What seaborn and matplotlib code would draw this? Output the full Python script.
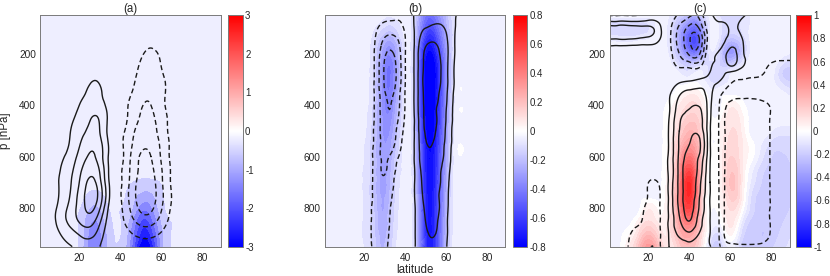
import numpy as np
import matplotlib
matplotlib.use("Agg")
import matplotlib.pyplot as plt
import matplotlib.tri as mtri
import seaborn as sns
from matplotlib.cm import ScalarMappable
from matplotlib.colors import LinearSegmentedColormap, Normalize

# ───────────────────────────────────────────────────────────────
# Grid (latitude columns, pressure rows)
# ───────────────────────────────────────────────────────────────
LAT = [0, 5, 10, 15, 20, 25, 30, 35, 40, 45, 50, 55, 60, 65, 70, 75, 80, 85, 90]
P_HPA = [50, 100, 150, 200, 250, 300, 350, 400, 450, 500,
         550, 600, 650, 700, 750, 800, 850, 900, 950]

# ───────────────────────────────────────────────────────────────
# Panel (a): shading in units of 0.1, contours in arbitrary units
# ───────────────────────────────────────────────────────────────
A_FILL = [[-1] * 19] * 13 + [
    [-1, -1, -1, -1, -1, -1, -1, -1, -1, -2, -3, -3, -2, -1, -1, -1, -1, -1, -1],
    [-1, -1, -1, -1, -1, -3, -3, -1, -1, -4, -7, -7, -3, -1, -1, -1, -1, -1, -1],
    [-1, -1, -1, -1, -2, -6, -6, -2, -2, -5, -12, -11, -4, -1, -1, -1, -1, -1, -1],
    [-1, -1, -1, -1, -3, -9, -9, -3, -2, -8, -18, -16, -6, -2, -1, -1, -1, -1, -1],
    [-1, -1, -1, -1, -3, -11, -11, -4, -2, -10, -23, -21, -8, -2, -1, -1, -1, -1, -1],
    [-1, -1, -1, -1, -3, -12, -12, -4, -3, -12, -29, -26, -9, -2, -1, -1, -1, -1, -1],
]
A_LINES = [
    [0, 0, 0, 1, 1, 2, 2, 1, -1, -3, -5, -6, -5, -3, -1, 0, 0, 0, 0],
    [0, 0, 0, 1, 2, 3, 3, 1, -1, -4, -6, -8, -6, -4, -1, 0, 0, 0, 0],
    [0, 0, 1, 1, 3, 4, 4, 2, -1, -4, -7, -9, -7, -4, -1, 0, 0, 0, 0],
    [0, 0, 1, 2, 4, 6, 6, 3, -2, -5, -9, -11, -9, -5, -2, 0, 0, 0, 0],
    [0, 0, 1, 2, 4, 7, 7, 3, -1, -6, -11, -13, -10, -5, -1, 0, 0, 0, 0],
    [0, 0, 1, 3, 6, 9, 9, 3, -2, -7, -13, -15, -12, -6, -2, 0, 0, 0, 0],
    [0, 1, 2, 4, 8, 11, 11, 4, -3, -9, -16, -18, -13, -6, -2, 0, 0, 0, 0],
    [0, 1, 2, 5, 10, 14, 14, 5, -4, -12, -19, -20, -13, -6, -2, 0, 0, 0, 0],
    [0, 1, 3, 7, 13, 19, 19, 6, -4, -13, -21, -22, -15, -7, -2, 0, 0, 0, 0],
    [0, 1, 4, 9, 16, 22, 20, 5, -6, -16, -24, -24, -16, -7, -2, 0, 0, 0, 0],
    [1, 2, 4, 10, 19, 27, 23, 7, -7, -18, -27, -27, -18, -8, -2, 0, 0, 0, 0],
    [1, 2, 7, 13, 23, 31, 25, 7, -6, -20, -31, -30, -19, -8, -2, 0, 0, 0, 0],
    [1, 3, 9, 16, 27, 36, 29, 7, -8, -21, -32, -32, -21, -9, -3, 0, 0, 0, 0],
    [1, 3, 10, 18, 30, 42, 33, 8, -8, -22, -34, -34, -22, -9, -3, 0, 0, 0, 0],
    [1, 3, 10, 19, 33, 44, 36, 9, -9, -23, -35, -35, -23, -10, -3, 0, 0, 0, 0],
    [1, 4, 12, 22, 34, 42, 31, 6, -8, -21, -32, -32, -21, -9, -3, 0, 0, 0, 0],
    [1, 4, 13, 22, 31, 35, 22, 4, -7, -16, -24, -24, -16, -7, -2, 0, 0, 0, 0],
    [1, 3, 9, 15, 21, 24, 15, 3, -4, -9, -13, -13, -9, -4, -1, 0, 0, 0, 0],
    [1, 2, 6, 9, 13, 15, 10, 3, -1, -3, -5, -5, -3, -1, 0, 0, 0, 0, 0],
]

# ───────────────────────────────────────────────────────────────
# Panel (b): shading in units of 0.01
# ───────────────────────────────────────────────────────────────
B_FILL = [
    [-2, -2, -2, -2, -2, -2, -4, -4, -2, -14, -40, -38, -20, -5, -2, -2, -2, -2, -2],
    [-2, -2, -2, -2, -2, -5, -11, -11, -3, -16, -50, -48, -24, -5, -2, -2, -2, -2, -2],
    [-2, -2, -2, -2, -2, -9, -23, -22, -5, -19, -62, -59, -28, -5, -2, -2, -2, -2, -2],
    [-2, -2, -2, -2, -3, -11, -31, -29, -6, -22, -72, -68, -32, -4, -2, -2, -2, -2, -2],
    [-2, -2, -2, -2, -3, -12, -36, -33, -6, -24, -80, -75, -35, -4, -2, -2, -2, -2, -2],
    [-2, -2, -2, -2, -3, -13, -37, -33, -6, -24, -80, -76, -35, -4, -2, -2, -2, -2, -2],
    [-2, -2, -2, -2, -3, -13, -36, -31, -5, -24, -80, -75, -34, -3, -2, -2, -2, -2, -2],
    [-2, -2, -2, -2, -3, -14, -35, -28, -5, -23, -79, -74, -33, -3, -2, -2, -2, -2, -2],
    [-2, -2, -2, -2, -4, -15, -33, -25, -4, -22, -76, -72, -32, -3, -2, -2, -2, -2, -2],
    [-2, -2, -2, -2, -4, -16, -32, -22, -4, -21, -73, -70, -30, -3, -2, -2, -2, -2, -2],
    [-2, -2, -2, -2, -5, -17, -30, -19, -3, -20, -70, -67, -29, -2, -2, -2, -2, -2, -2],
    [-2, -2, -2, -2, -5, -17, -29, -16, -3, -19, -68, -65, -28, -2, -2, -2, -2, -2, -2],
    [-2, -2, -2, -2, -6, -17, -28, -14, -3, -18, -67, -64, -27, -2, -2, -2, -2, -2, -2],
    [-2, -2, -2, -2, -6, -17, -27, -12, -2, -17, -66, -63, -26, -2, -2, -2, -2, -2, -2],
    [-2, -2, -2, -2, -6, -17, -26, -11, -2, -16, -65, -62, -25, -2, -2, -2, -2, -2, -2],
    [-2, -2, -2, -2, -6, -16, -25, -10, -2, -16, -65, -61, -24, -2, -2, -2, -2, -2, -2],
    [-2, -2, -2, -2, -6, -15, -24, -9, -2, -15, -64, -60, -23, -2, -2, -2, -2, -2, -2],
    [-2, -2, -2, -2, -6, -14, -22, -8, -2, -15, -63, -60, -22, -2, -2, -2, -2, -2, -2],
    [-2, -2, -2, -2, -5, -13, -20, -7, -2, -14, -62, -59, -21, -2, -2, -2, -2, -2, -2],
]
B_LINES = [
    [0, 0, 0, 0, 0, -2, -5, -6, -3, 12, 16, 17, 15, 10, 0, 0, 0, 0, 0],
    [0, 0, 0, 0, -1, -7, -14, -15, -8, 12, 20, 22, 19, 9, 0, 0, 0, 0, 0],
    [0, 0, 0, 0, -2, -9, -22, -23, -11, 12, 27, 29, 22, 8, 0, 0, 0, 0, 0],
    [0, 0, 0, 0, -2, -10, -28, -29, -11, 13, 32, 33, 23, 8, 0, 0, 0, 0, 0],
    [0, 0, 0, 0, -2, -10, -31, -32, -11, 13, 33, 35, 23, 7, 0, 0, 0, 0, 0],
    [0, 0, 0, 0, -2, -10, -31, -32, -11, 13, 34, 35, 23, 7, 0, 0, 0, 0, 0],
    [0, 0, 0, 0, -2, -10, -29, -29, -10, 13, 33, 33, 22, 6, 0, 0, 0, 0, 0],
    [0, 0, 0, 0, -2, -10, -27, -27, -10, 13, 32, 31, 21, 5, 0, 0, 0, 0, 0],
    [0, 0, 0, 0, -2, -10, -26, -25, -9, 12, 32, 31, 20, 5, 0, 0, 0, 0, 0],
    [0, 0, 0, 0, -3, -11, -25, -22, -7, 12, 31, 30, 19, 4, 0, 0, 0, 0, 0],
    [0, 0, 0, 0, -3, -11, -24, -20, -5, 12, 29, 28, 18, 4, 0, 0, 0, 0, 0],
    [0, 0, 0, 0, -3, -12, -22, -14, -4, 12, 27, 26, 17, 3, 0, 0, 0, 0, 0],
    [0, 0, 0, 0, -3, -12, -21, -11, -3, 11, 25, 24, 15, 3, 0, 0, 0, 0, 0],
    [0, 0, 0, 0, -3, -12, -19, -9, -2, 11, 23, 23, 14, 2, 0, 0, 0, 0, 0],
    [0, 0, 0, 0, -3, -12, -18, -7, -1, 11, 22, 22, 13, 2, 0, 0, 0, 0, 0],
    [0, 0, 0, 0, -4, -13, -17, -5, -1, 10, 21, 22, 13, 1, 0, 0, 0, 0, 0],
    [0, 0, 0, 0, -4, -13, -16, -4, 0, 10, 20, 21, 12, 1, 0, 0, 0, 0, 0],
    [0, 0, 0, 0, -4, -13, -15, -3, 0, 10, 19, 20, 12, 1, 0, 0, 0, 0, 0],
    [0, 0, 0, 0, -4, -12, -13, -3, 0, 10, 18, 18, 11, 1, 0, 0, 0, 0, 0],
]

# ───────────────────────────────────────────────────────────────
# Panel (c): shading in units of 0.01
# ───────────────────────────────────────────────────────────────
C_FILL = [
    [-1, -1, -1, -1, -2, -2, -5, -15, -25, -20, -4, -12, -14, -12, -5, -2, -2, -2, -2],
    [-14, -14, -14, -14, -11, -3, -8, -28, -50, -45, -6, -8, -12, -10, -4, -2, -2, -2, -2],
    [-6, -6, -6, -5, -4, -2, -8, -32, -62, -55, -6, -12, -25, -18, -4, -2, -2, -2, -2],
    [-2, -2, -2, -2, -2, -2, -6, -25, -45, -40, -8, -18, -36, -22, -4, -2, -2, -3, -6],
    [-2, -2, -2, -2, -2, -2, -3, -10, -15, -9, -12, -15, -14, -6, -2, -2, -2, -12, -15],
    [-2, -2, -2, -2, -2, -2, -2, -2, -3, -2, -11, -11, -4, -2, -2, -2, -3, -13, -16],
    [-2, -2, -2, -2, -2, -2, -2, 3, 8, 5, -3, -2, -2, -2, -2, -2, -2, -4, -8],
    [-2, -2, -2, -2, -2, -2, 2, 10, 16, 12, -2, -2, 8, 3, -2, -2, -2, -2, -2],
    [-2, -2, -2, -2, -2, -2, 4, 14, 22, 17, 2, 3, 13, 8, -2, -2, -2, -2, -2],
    [-2, -2, -2, -2, -2, -2, 5, 18, 30, 20, 2, 5, 15, 10, -2, -2, -5, -8, -8],
    [-2, -2, -2, -2, -2, -2, 6, 25, 40, 24, 2, 5, 17, 12, 2, -5, -12, -13, -12],
    [-2, -2, -2, -2, -2, -2, 7, 32, 55, 28, 2, 6, 20, 12, 2, -8, -15, -16, -14],
    [-2, -2, -2, -2, -2, -2, 8, 40, 72, 30, 2, 6, 24, 13, -3, -13, -17, -17, -15],
    [-2, -2, -2, -2, -2, -2, 9, 45, 85, 30, 2, 6, 26, 13, -6, -15, -18, -18, -15],
    [-2, -2, -2, -2, -2, -2, 10, 48, 85, 30, 2, 5, 22, 12, -10, -17, -19, -18, -15],
    [-2, -2, -2, -2, 9, 3, 11, 45, 75, 28, 1, 4, 16, 6, -12, -18, -19, -18, -14],
    [-2, -2, -2, 6, 15, 8, 12, 38, 55, 25, 0, 0, 12, -3, -16, -19, -19, -16, -12],
    [-2, -2, 3, 15, 28, 15, 12, 30, 38, 20, -5, -8, 6, -10, -18, -20, -18, -14, -10],
    [-2, -2, 8, 25, 42, 25, 10, 22, 28, 15, -12, -15, -3, -14, -18, -19, -16, -12, -8],
]
C_LINES = [
    [-11, -11, -11, -10, -3, 0, -3, -12, -18, -16, 6, 13, 16, 13, 6, 0, -2, -3, -3],
    [24, 24, 24, 23, 22, 14, -6, -22, -33, -28, 0, 7, 11, 8, 2, -2, -4, -5, -5],
    [17, 17, 17, 16, 15, 10, -7, -24, -39, -39, 0, 8, 15, 12, 4, -3, -6, -7, -7],
    [2, 2, 2, 2, 2, 1, -6, -20, -32, -30, 3, 12, 24, 14, 4, -4, -8, -9, -9],
    [1, 1, 1, 1, 1, 0, -3, -11, -12, -11, 8, 13, 19, 12, 2, -6, -11, -11, -11],
    [1, 1, 1, 1, 1, 1, 2, 6, 8, 11, 13, 11, -4, -10, -12, -12, -13, -13, -13],
    [1, 1, 1, 1, 1, 2, 8, 18, 22, 22, 14, -6, -16, -18, -18, -17, -15, -14, -14],
    [1, 1, 1, 1, 1, 2, 9, 24, 29, 29, 13, -12, -22, -23, -23, -22, -19, -15, -14],
    [1, 1, 1, 1, 1, 2, 10, 28, 33, 33, 12, -13, -25, -26, -26, -25, -19, -16, -14],
    [1, 1, 1, 1, 1, 2, 11, 30, 37, 36, 11, -13, -25, -26, -26, -25, -19, -16, -14],
    [1, 1, 1, 1, 1, 1, 11, 31, 40, 41, 11, -13, -25, -26, -26, -25, -19, -16, -14],
    [1, 1, 1, 1, 1, 1, 12, 32, 44, 38, 11, -13, -25, -26, -26, -25, -19, -16, -14],
    [1, 1, 1, 1, 0, 1, 12, 33, 46, 35, 10, -13, -25, -26, -26, -25, -19, -16, -14],
    [0, 0, 0, -3, -10, -9, 12, 33, 46, 32, 10, -13, -25, -26, -26, -25, -19, -16, -14],
    [0, 0, -1, -4, -11, -12, 12, 33, 46, 30, 10, -13, -25, -26, -26, -25, -19, -16, -14],
    [0, 0, -3, -6, -14, -12, 12, 32, 44, 28, 10, -13, -25, -26, -26, -25, -19, -16, -14],
    [0, 0, -5, -8, -16, -13, 12, 28, 40, 24, 10, -13, -25, -26, -26, -25, -19, -16, -14],
    [0, 0, -8, -14, -18, -14, 11, 22, 28, 19, 10, -13, -25, -26, -26, -25, -19, -16, -14],
    [0, 0, -10, -15, -19, -14, 10, 14, 16, 13, 11, -10, -17, -18, -18, -17, -15, -13, -12],
]

LINE_POS = [10, 20, 30, 40]
LINE_NEG = [-40, -30, -20, -10]

CB_A = [-3, -2, -1, 0, 1, 2, 3]
CB_B = [-0.8, -0.6, -0.4, -0.2, 0, 0.2, 0.4, 0.6, 0.8]
CB_C = [-1, -0.8, -0.6, -0.4, -0.2, 0, 0.2, 0.4, 0.6, 0.8, 1]

# ───────────────────────────────────────────────────────────────
# Style
# ───────────────────────────────────────────────────────────────
sns.set_theme(style="ticks")
plt.rcParams["font.family"] = ["Liberation Sans", "DejaVu Sans"]
plt.rcParams["lines.dashed_pattern"] = [3.6, 2.2]

CMAP = LinearSegmentedColormap.from_list("bwr_m", [(0, 0, 1), (1, 1, 1), (1, 0, 0)])
TXT = "#262626"
EDGE = "#7a7a7a"
W, H = 830, 276

# smooth rendering of the coarse grids (cubic refinement done by matplotlib.tri)
_LL, _PP = np.meshgrid(LAT, P_HPA)
_BASE = mtri.Triangulation(_LL.ravel() / 5.0, _PP.ravel() / 50.0)
_REFINER = mtri.UniformTriRefiner(_BASE)


def refine(z):
    tri_r, z_r = _REFINER.refine_field(np.asarray(z, dtype=float).ravel(), subdiv=3)
    tri_r = mtri.Triangulation(tri_r.x * 5.0, tri_r.y * 50.0, tri_r.triangles)
    return tri_r, z_r


def fmt(v):
    return "0" if v == 0 else f"{v:g}"


def draw_panel(fig, left, cb_left, fill, scale, lines, vmax, nlev, cticks, title):
    ax = fig.add_axes([left / W, 29.3 / H, 180.4 / W, 231.4 / H])
    cax = fig.add_axes([cb_left / W, 29.3 / H, 14.6 / W, 231.4 / H])

    norm = Normalize(-vmax, vmax)
    levels = np.linspace(-vmax, vmax, nlev)
    band_colors = [CMAP(norm(v)) for v in levels[:-1]]

    tri_f, zf = refine(np.array(fill, dtype=float) * scale)
    zf = np.clip(zf, -vmax, vmax)
    tri_l, zl = refine(lines)

    ax.tricontourf(tri_f, zf, levels=levels, colors=band_colors)
    ax.tricontour(tri_l, zl, levels=LINE_POS, colors="k",
                  linewidths=1.0, linestyles="solid")
    ax.tricontour(tri_l, zl, levels=LINE_NEG, colors="k",
                  linewidths=1.0, linestyles="dashed")

    ax.set_xlim(1, 89)
    ax.set_ylim(950, 50)
    ax.set_xticks([20, 40, 60, 80])
    ax.set_yticks([200, 400, 600, 800])
    ax.tick_params(direction="in", length=3, width=0.6, top=True, right=True,
                   labelsize=7.3, colors=EDGE, labelcolor=TXT)
    ax.tick_params(axis="x", pad=4.3)
    ax.tick_params(axis="y", pad=3.2)
    for s in ax.spines.values():
        s.set_color(EDGE)
        s.set_linewidth(0.7)
    ax.set_title(title, fontsize=8.3, color=TXT, pad=2.5)

    sm = ScalarMappable(norm=norm, cmap=CMAP)
    cb = fig.colorbar(sm, cax=cax, ticks=cticks)
    cb.ax.set_yticklabels([fmt(v) for v in cticks])
    cb.outline.set_edgecolor(EDGE)
    cb.outline.set_linewidth(0.7)
    cax.tick_params(direction="in", length=2.5, width=0.6, labelsize=7.0,
                    colors=EDGE, labelcolor=TXT, pad=1.8)
    return ax


fig = plt.figure(figsize=(W / 100, H / 100), dpi=100)

ax_a = draw_panel(fig, 40.3, 228.0, A_FILL, 0.1, A_LINES, 3, 16, CB_A, "(a)")
ax_b = draw_panel(fig, 325.0, 512.5, B_FILL, 0.01, B_LINES, 0.8, 33, CB_B, "(b)")
ax_c = draw_panel(fig, 609.6, 796.0, C_FILL, 0.01, C_LINES, 1, 41, CB_C, "(c)")

ax_a.set_ylabel("p [hPa]", fontsize=8.3, color=TXT)
ax_a.yaxis.set_label_coords(-0.165, 0.5)
ax_b.set_xlabel("latitude", fontsize=8.3, color=TXT)
ax_b.xaxis.set_label_coords(0.5, -0.075)

fig.savefig("out.png", dpi=100)
